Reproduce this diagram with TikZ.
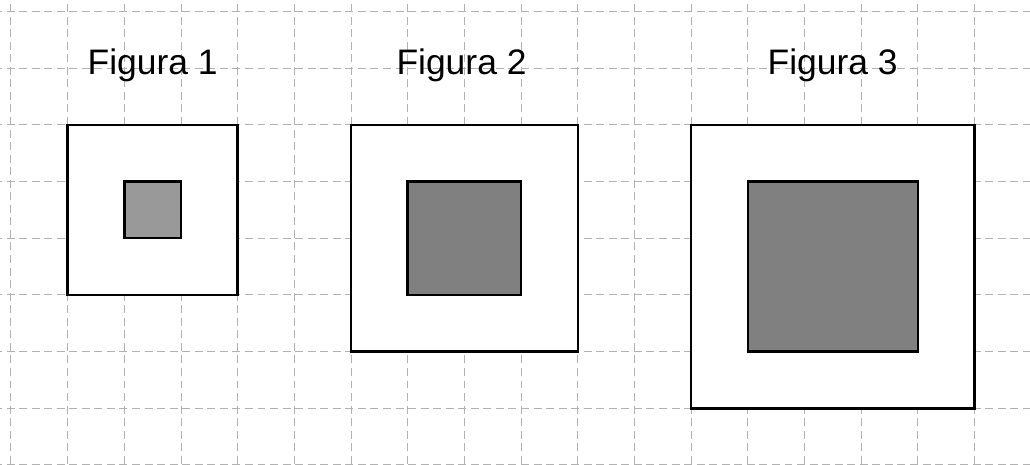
\documentclass[tikz,border=0pt]{standalone}
\usepackage{fontspec}
\setmainfont{Liberation Sans}
\begin{document}
\begin{tikzpicture}[x=1cm,y=1cm,
  gridline/.style={draw=black!30, line width=0.5pt, dash pattern=on 4pt off 2.3pt},
  outerbox/.style={draw=black, line width=1.2pt, fill=white},
  innerlight/.style={draw=black, line width=1.2pt, fill=black!40},
  innerdark/.style={draw=black, line width=1.2pt, fill=black!50},
  caption/.style={anchor=base, font=\fontsize{17.8pt}{20pt}\selectfont, inner sep=0pt}]
\useasboundingbox (-0.194,0) rectangle (17.981,8.205);
\fill[white] (-0.194,0) rectangle (17.981,8.205);
\begin{scope}
\clip (-0.194,0) rectangle (17.981,8.205);
\foreach \i in {0,...,18} \draw[gridline] (\i,-0.2) -- (\i,8.3);
\foreach \j in {0,...,8} \draw[gridline] (-0.3,\j) -- (18.2,\j);
\end{scope}
% Figure 1
\node[outerbox, minimum width=3cm, minimum height=3cm, inner sep=0pt] (o1) at (2.5,4.5) {};
\node[innerlight, minimum width=1cm, minimum height=1cm, inner sep=0pt] (i1) at (2.5,4.5) {};
% Figure 2
\node[outerbox, minimum width=4cm, minimum height=4cm, inner sep=0pt] (o2) at (8,4) {};
\node[innerdark, minimum width=2cm, minimum height=2cm, inner sep=0pt] (i2) at (8,4) {};
% Figure 3
\node[outerbox, minimum width=5cm, minimum height=5cm, inner sep=0pt] (o3) at (14.5,3.5) {};
\node[innerdark, minimum width=3cm, minimum height=3cm, inner sep=0pt] (i3) at (14.5,3.5) {};
% captions
\node[caption] (c1) at (2.5,6.885) {Figura 1};
\node[caption] (c2) at (7.95,6.885) {Figura 2};
\node[caption] (c3) at (14.5,6.885) {Figura 3};
\end{tikzpicture}
\end{document}
